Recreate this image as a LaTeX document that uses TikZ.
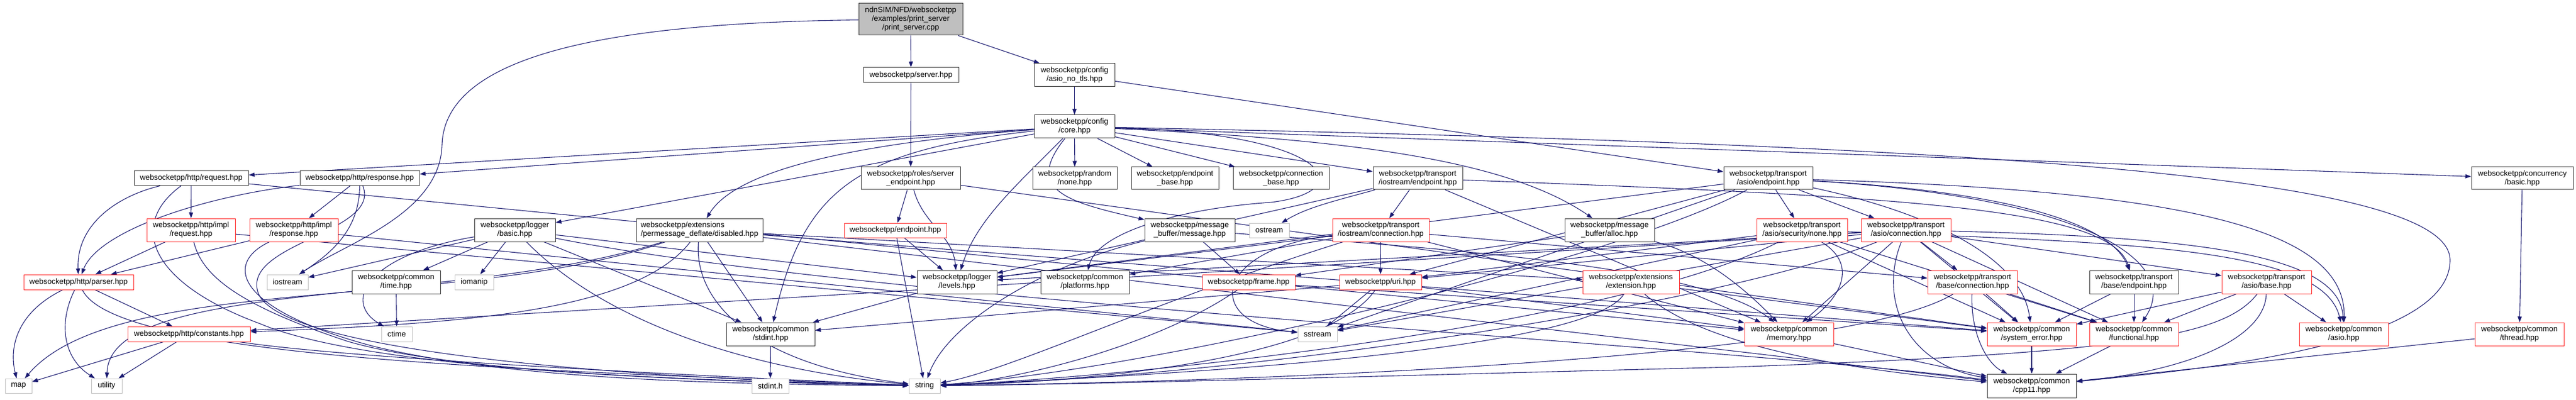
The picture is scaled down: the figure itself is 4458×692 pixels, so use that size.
\documentclass[tikz,border=0pt]{standalone}
\usepackage{fontspec}
\setmainfont{Liberation Sans}
\usetikzlibrary{arrows.meta}
\pgfdeclarelayer{edges}
\pgfsetlayers{edges,main}
\definecolor{edgeblue}{HTML}{191970}
\definecolor{nodered}{RGB}{255,40,40}
\tikzset{
 nb/.style={draw=black!80, fill=white, line width=1pt, inner sep=1pt, font=\fontsize{13.3}{15}\selectfont, align=center, rectangle},
 nr/.style={nb, draw=nodered},
 ng/.style={nb, draw=black!25},
 nroot/.style={nb, fill=black!25},
 lnk/.style={draw=edgeblue, line width=1.1pt, -{Triangle[length=10pt,width=7pt]}},
}
\newcommand\mkbox[6]{\node[#1,minimum width=#4pt,minimum height=#5pt] (#2) at (#3) {#6};}
\begin{document}
\begin{tikzpicture}[x=1pt,y=-1pt]
\useasboundingbox (0,0) rectangle (4458,692);
% row 1-3
\mkbox{nroot}{root}{1576,33.5}{180}{55}{ndnSIM/NFD/websocketpp\\/examples/print\_server\\/print\_server.cpp}
\mkbox{nb}{srv}{1576.5,130}{165}{26}{websocketpp/server.hpp}
\mkbox{nb}{anotls}{1859.5,130}{139}{40}{websocketpp/config\\/asio\_no\_tls.hpp}
\mkbox{nb}{core}{1859.5,219}{139}{40}{websocketpp/config\\/core.hpp}
% row 4
\mkbox{nb}{req}{331,308.5}{198}{25}{websocketpp/http/request.hpp}
\mkbox{nb}{resp}{622.5,308.5}{207}{25}{websocketpp/http/response.hpp}
\mkbox{nb}{sep}{1576,308.5}{172}{39}{websocketpp/roles/server\\\_endpoint.hpp}
\mkbox{nb}{rnd}{1860,308.5}{146}{39}{websocketpp/random\\/none.hpp}
\mkbox{nb}{epb}{2033.5,308.5}{151}{39}{websocketpp/endpoint\\\_base.hpp}
\mkbox{nb}{cnb}{2217,308.5}{166}{39}{websocketpp/connection\\\_base.hpp}
\mkbox{nb}{ioep}{2453.5,308.5}{155}{39}{websocketpp/transport\\/iostream/endpoint.hpp}
\mkbox{nb}{asep}{3060,308.5}{154}{39}{websocketpp/transport\\/asio/endpoint.hpp}
\mkbox{nb}{conc}{4365,308.5}{176}{39}{websocketpp/concurrency\\/basic.hpp}
% row 5
\mkbox{nr}{ireq}{330.5,398}{153}{40}{websocketpp/http/impl\\/request.hpp}
\mkbox{nr}{iresp}{508.5,398}{153}{40}{websocketpp/http/impl\\/response.hpp}
\mkbox{nb}{lbas}{891,398}{140}{40}{websocketpp/logger\\/basic.hpp}
\mkbox{nb,align=left}{dis}{1210.5,398}{219}{40}{websocketpp/extensions\\/permessage\_deflate/disabled.hpp}
\mkbox{nr}{ep}{1549.5,398.5}{177}{25}{websocketpp/endpoint.hpp}
\mkbox{nb}{msg}{2059,398}{156}{40}{websocketpp/message\\\_buffer/message.hpp}
\mkbox{ng}{ostr}{2196.5,398.5}{69}{25}{ostream}
\mkbox{nr}{iocn}{2389.5,398}{167}{40}{websocketpp/transport\\/iostream/connection.hpp}
\mkbox{nb}{alloc}{2785.5,398}{155}{40}{websocketpp/message\\\_buffer/alloc.hpp}
\mkbox{nr}{secn}{3118.5,398}{157}{40}{websocketpp/transport\\/asio/security/none.hpp}
\mkbox{nr}{ascn}{3298.5,398}{155}{40}{websocketpp/transport\\/asio/connection.hpp}
% row 6
\mkbox{nr}{parser}{136,488}{190}{26}{websocketpp/http/parser.hpp}
\mkbox{ng}{iostr}{497.5,488}{71}{26}{iostream}
\mkbox{nb}{time}{685.5,488}{153}{40}{websocketpp/common\\/time.hpp}
\mkbox{ng}{ioman}{820.5,488}{67}{26}{iomanip}
\mkbox{nb}{lev}{1656,488}{138}{40}{websocketpp/logger\\/levels.hpp}
\mkbox{nb}{plat}{1877.5,488}{153}{40}{websocketpp/common\\/platforms.hpp}
\mkbox{nr}{frame}{2161,488}{160}{26}{websocketpp/frame.hpp}
\mkbox{nr}{uri}{2389,488}{142}{26}{websocketpp/uri.hpp}
\mkbox{nr}{ext}{2822.5,488}{167}{40}{websocketpp/extensions\\/extension.hpp}
\mkbox{nr}{bcn}{3413.5,488}{155}{40}{websocketpp/transport\\/base/connection.hpp}
\mkbox{nb}{bep}{3693,488}{154}{40}{websocketpp/transport\\/base/endpoint.hpp}
\mkbox{nr}{asb}{3922.5,488}{155}{40}{websocketpp/transport\\/asio/base.hpp}
% row 7
\mkbox{nr}{const}{327,578}{212}{26}{websocketpp/http/constants.hpp}
\mkbox{ng}{ctime}{686.5,578}{53}{26}{ctime}
\mkbox{nb}{stdi}{1333.5,578}{153}{40}{websocketpp/common\\/stdint.hpp}
\mkbox{ng}{sstr}{2280,578}{68}{26}{sstream}
\mkbox{nr}{mem}{3096,578}{154}{40}{websocketpp/common\\/memory.hpp}
\mkbox{nr}{syse}{3516,578}{154}{40}{websocketpp/common\\/system\_error.hpp}
\mkbox{nr}{func}{3693,578}{154}{40}{websocketpp/common\\/functional.hpp}
\mkbox{nr}{asio}{4056,578}{154}{40}{websocketpp/common\\/asio.hpp}
\mkbox{nr}{thr}{4360,578}{154}{40}{websocketpp/common\\/thread.hpp}
% row 8
\mkbox{ng}{map}{32,667.5}{46}{25}{map}
\mkbox{ng}{util}{184.5,667.5}{53}{25}{utility}
\mkbox{ng}{stdh}{1333,667.5}{64}{25}{stdint.h}
\mkbox{ng}{str}{1600,667.5}{54}{25}{string}
\mkbox{nb}{cpp}{3516,667.5}{154}{41}{websocketpp/common\\/cpp11.hpp}

\begin{pgfonlayer}{edges}
% root
\draw[lnk] (root) -- (srv);
\draw[lnk] (root) -- (anotls);
\draw[lnk] (root) .. controls (1000,40) and (770,110) .. (765,250) .. controls (762,370) and (600,420) .. (iostr);
\draw[lnk] (srv) -- (sep);
\draw[lnk] (anotls) -- (core);
\draw[lnk] (anotls) -- (asep);
% server endpoint
\draw[lnk] (sep) -- (ep);
\draw[lnk] (sep) to[out=-75,in=95] (lev);
\draw[lnk] (sep) -- (syse);
% core
\draw[lnk] (core) -- (req);
\draw[lnk] (core) -- (resp);
\draw[lnk] (core) -- (lbas);
\draw[lnk] (core) .. controls (1450,250) and (1270,300) .. (dis);
\draw[lnk] (core) .. controls (1480,260) and (1390,330) .. (stdi);
\draw[lnk] (core) .. controls (1760,320) and (1690,380) .. (lev);
\draw[lnk] (core) .. controls (1770,330) and (1850,350) .. (msg);
\draw[lnk] (core) .. controls (2300,230) and (2360,330) .. (2200,350) .. controls (2050,360) and (1900,400) .. (plat);
\draw[lnk] (core) -- (rnd);
\draw[lnk] (core) -- (epb);
\draw[lnk] (core) -- (cnb);
\draw[lnk] (core) -- (ioep);
\draw[lnk] (core) .. controls (2300,240) and (2600,270) .. (alloc);
\draw[lnk] (core) -- (conc);
\draw[lnk] (core) .. controls (3400,250) and (4240,300) .. (4240,450) .. controls (4240,600) and (3800,640) .. (cpp);
% http request/response
\draw[lnk] (req) .. controls (200,340) and (132,390) .. (parser);
\draw[lnk] (req) -- (ireq);
\draw[lnk] (req) .. controls (220,390) and (260,490) .. (450,560) .. controls (640,640) and (1200,660) .. (str);
\draw[lnk] (req) -- (mem);
\draw[lnk] (resp) .. controls (350,340) and (170,400) .. (parser);
\draw[lnk] (resp) -- (iresp);
\draw[lnk] (resp) .. controls (622,400) and (570,440) .. (iostr);
\draw[lnk] (resp) .. controls (660,400) and (430,420) .. (445,500) .. controls (460,610) and (1100,655) .. (str);
\draw[lnk] (ireq) -- (parser);
\draw[lnk] (ireq) .. controls (350,480) and (420,530) .. (600,590) .. controls (800,650) and (1300,660) .. (str);
\draw[lnk] (ireq) -- (sstr);
\draw[lnk] (iresp) -- (parser);
\draw[lnk] (iresp) .. controls (380,460) and (420,540) .. (650,600) .. controls (900,660) and (1300,665) .. (str);
\draw[lnk] (iresp) -- (sstr);
\draw[lnk] (parser) .. controls (30,540) and (15,600) .. (map);
\draw[lnk] (parser) .. controls (100,560) and (110,620) .. (util);
\draw[lnk] (parser) .. controls (200,620) and (900,640) .. (str);
\draw[lnk] (parser) -- (const);
\draw[lnk] (const) -- (map);
\draw[lnk] (const) -- (util);
\draw[lnk] (const) .. controls (600,620) and (1200,650) .. (str);
% logger basic
\draw[lnk] (lbas) -- (iostr);
\draw[lnk] (lbas) -- (time);
\draw[lnk] (lbas) -- (ioman);
\draw[lnk] (lbas) .. controls (640,440) and (590,520) .. (ctime);
\draw[lnk] (lbas) -- (lev);
\draw[lnk] (lbas) -- (stdi);
\draw[lnk] (lbas) .. controls (1500,520) and (3000,600) .. (cpp);
\draw[lnk] (lbas) .. controls (1050,560) and (1300,640) .. (str);
\draw[lnk] (time) -- (ctime);
% disabled
\draw[lnk] (dis) .. controls (800,540) and (200,470) .. (map);
\draw[lnk] (dis) .. controls (800,530) and (190,480) .. (util);
\draw[lnk] (dis) .. controls (1100,540) and (800,560) .. (const);
\draw[lnk] (dis) -- (stdi);
\draw[lnk] (dis) -- (syse);
\draw[lnk] (dis) -- (ext);
\draw[lnk] (dis) -- (cpp);
\draw[lnk] (dis) .. controls (1200,520) and (1300,630) .. (str);
% endpoint, levels, stdint
\draw[lnk] (ep) -- (lev);
\draw[lnk] (ep) -- (str);
\draw[lnk] (lev) -- (stdi);
\draw[lnk] (stdi) -- (stdh);
% message buffers
\draw[lnk] (msg) -- (frame);
\draw[lnk] (msg) .. controls (1800,460) and (1640,560) .. (str);
\draw[lnk] (msg) .. controls (2500,430) and (2950,460) .. (mem);
\draw[lnk] (alloc) -- (frame);
\draw[lnk] (alloc) .. controls (2950,440) and (3020,500) .. (mem);
% iostream transport
\draw[lnk] (ioep) .. controls (2300,350) and (2260,360) .. (ostr);
\draw[lnk] (ioep) -- (lev);
\draw[lnk] (ioep) -- (mem);
\draw[lnk] (ioep) .. controls (3300,340) and (3650,360) .. (bep);
\draw[lnk] (ioep) -- (iocn);
\draw[lnk] (iocn) -- (uri);
\draw[lnk] (iocn) -- (bcn);
\draw[lnk] (iocn) -- (lev);
\draw[lnk] (iocn) -- (plat);
\draw[lnk] (iocn) .. controls (2100,430) and (2080,560) .. (sstr);
\draw[lnk] (iocn) -- (mem);
\draw[lnk] (iocn) .. controls (2000,520) and (1750,640) .. (str);
% uri, frame, extension
\draw[lnk] (uri) -- (stdi);
\draw[lnk] (uri) -- (sstr);
\draw[lnk] (uri) .. controls (2300,620) and (1900,660) .. (str);
\draw[lnk] (uri) -- (mem);
\draw[lnk] (frame) .. controls (2000,600) and (1750,660) .. (str);
\draw[lnk] (frame) -- (syse);
\draw[lnk] (ext) .. controls (2750,610) and (2000,650) .. (str);
\draw[lnk] (ext) .. controls (2950,600) and (3200,640) .. (cpp);
\draw[lnk] (ext) -- (syse);
% asio security
\draw[lnk] (secn) .. controls (3220,460) and (3180,520) .. (mem);
\draw[lnk] (secn) -- (uri);
\draw[lnk] (secn) -- (sstr);
\draw[lnk] (secn) .. controls (2800,560) and (2000,650) .. (str);
\draw[lnk] (secn) -- (func);
\draw[lnk] (secn) -- (syse);
\draw[lnk] (secn) .. controls (3700,420) and (4020,430) .. (asio);
% asio endpoint
\draw[lnk] (asep) -- (secn);
\draw[lnk] (asep) -- (ascn);
\draw[lnk] (asep) .. controls (3450,330) and (3650,380) .. (bep);
\draw[lnk] (asep) -- (uri);
\draw[lnk] (asep) -- (lev);
\draw[lnk] (asep) .. controls (3600,340) and (3780,450) .. (func);
\draw[lnk] (asep) .. controls (3800,330) and (4060,400) .. (asio);
\draw[lnk] (asep) -- (sstr);
\draw[lnk] (asep) .. controls (2800,450) and (2000,640) .. (str);
\draw[lnk] (asep) .. controls (3350,370) and (3500,450) .. (syse);
% asio connection
\draw[lnk] (ascn) -- (bcn);
\draw[lnk] (ascn) -- (asb);
\draw[lnk] (ascn) -- (func);
\draw[lnk] (ascn) .. controls (3250,520) and (3300,630) .. (cpp);
\draw[lnk] (ascn) .. controls (3800,410) and (4050,440) .. (asio);
\draw[lnk] (ascn) -- (const);
\draw[lnk] (ascn) -- (lev);
\draw[lnk] (ascn) -- (uri);
\draw[lnk] (ascn) -- (mem);
\draw[lnk] (ascn) -- (sstr);
\draw[lnk] (ascn) .. controls (3000,520) and (2200,650) .. (str);
\draw[lnk] (ascn) -- (syse);
% base transport
\draw[lnk] (bcn) -- (syse);
\draw[lnk] (bcn) -- (func);
\draw[lnk] (bcn) .. controls (3410,580) and (3440,630) .. (cpp);
\draw[lnk] (bcn) .. controls (3200,620) and (2200,660) .. (str);
\draw[lnk] (bep) -- (func);
\draw[lnk] (bep) -- (syse);
\draw[lnk] (asb) -- (asio);
\draw[lnk] (asb) -- (func);
\draw[lnk] (asb) -- (syse);
\draw[lnk] (asb) .. controls (3920,580) and (3800,640) .. (cpp);
\draw[lnk] (asb) .. controls (3850,580) and (3700,610) .. (3000,635) .. controls (2400,650) and (1900,665) .. (str);
% common
\draw[lnk] (syse) -- (cpp);
\draw[lnk] (func) -- (cpp);
\draw[lnk] (mem) -- (cpp);
\draw[lnk] (thr) -- (cpp);
\draw[lnk] (conc) -- (thr);
\end{pgfonlayer}
\end{tikzpicture}
\end{document}
